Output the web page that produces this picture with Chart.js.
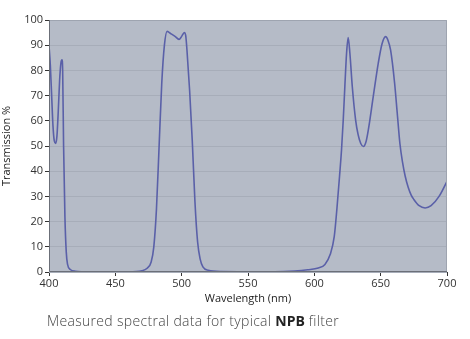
<!DOCTYPE html>
<html>
<head>
<meta charset="utf-8">
<script src="https://cdn.jsdelivr.net/npm/chart.js@4"></script>
<style>
  html,body{margin:0;padding:0;background:#fff;}
  #wrap{position:relative;width:470px;height:339px;overflow:hidden;}
  #c{position:absolute;left:0;top:0;}
  #cap{position:absolute;left:47px;top:311px;font-family:"Open Sans",sans-serif;font-weight:350;font-size:14px;letter-spacing:0.32px;color:#444;white-space:nowrap;}
  #cap b{color:#222;font-weight:700;letter-spacing:0;}
</style>
</head>
<body>
<div id="wrap">
  <canvas id="c" width="470" height="339"></canvas>
  <div id="cap">Measured spectral data for typical <b>NPB</b> filter</div>
</div>
<script>
const wavelengths = [400,401,402,403,404,405,406,407,408,409,409.8,410.3,411,412,413,414,416,420,430,460,470,474,477,479,481,483,485,487,489,492,495,498,500,502,503,504,506,508,510,512,514,516,520,530,570,585,595,603,608,612,615,617,619,620.5,621.8,623,624.3,625.5,626.8,628.6,631.1,633,635,637,639,640.7,644.4,648.2,651,653.7,655.5,657.5,660.5,662.5,664.5,666.5,668.5,670.8,673,675,679,683.5,688,694,700];
const transmission = [90,82,70,58,52,51,54,64,76,83,84.2,80,50,22,8,3,1,0.3,0.1,0.1,0.5,1.5,4,10,25,50,75,90,95.5,94.5,93.5,92.3,93.5,95,94,88,72,52,28,12,5,2,0.7,0.2,0.1,0.4,0.9,1.6,3,7,14,25,38,48.5,60.4,73.6,86.8,93,86.8,73.6,60.4,54.5,51,49.8,51.8,56.4,69.6,82.9,90.5,93.4,92,88,75,63,51,43.5,38,33.5,30.5,28.8,26.3,25.4,26.3,30,36];
const xTicks = [400,450,500,550,600,650,700];
const yTicks = [0,10,20,30,40,50,60,70,80,90,100];

const points = wavelengths.map((w,i)=>({x:w,y:transmission[i]}));

const bgPlugin = {
  id:'bg',
  beforeDraw(chart){
    const {ctx, chartArea:a} = chart;
    ctx.save();
    ctx.fillStyle = '#b5bbc7';
    ctx.fillRect(a.left, a.top, a.right-a.left, a.bottom-a.top);
    ctx.restore();
  },
  afterDatasetsDraw(chart){
    const {ctx, chartArea:a} = chart;
    ctx.save();
    ctx.strokeStyle = '#9ea4b0';
    ctx.lineWidth = 1;
    ctx.beginPath();
    ctx.moveTo(a.left, a.top+0.5); ctx.lineTo(a.right-0.5, a.top+0.5); ctx.lineTo(a.right-0.5, a.bottom);
    ctx.stroke();
    ctx.strokeStyle = '#6b6f78';
    ctx.beginPath();
    ctx.moveTo(a.left+0.5, a.top); ctx.lineTo(a.left+0.5, a.bottom-0.5); ctx.lineTo(a.right, a.bottom-0.5);
    ctx.stroke();
    ctx.restore();
  }
};

new Chart(document.getElementById('c'), {
  type:'line',
  data:{datasets:[{
    data:points,
    borderColor:'#5a60a8',
    borderWidth:1.6,
    pointRadius:0,
    fill:false,
    cubicInterpolationMode:'monotone'
  }]},
  options:{
    responsive:false,
    animation:false,
    layout:{padding:{left:0,right:23,top:20,bottom:34}},
    plugins:{legend:{display:false},tooltip:{enabled:false}},
    scales:{
      x:{
        type:'linear', min:400, max:700,
        afterBuildTicks(s){ s.ticks = xTicks.map(v=>({value:v})); },
        afterFit(s){ s.height = 33; },
        grid:{drawOnChartArea:false, drawTicks:true, tickLength:4, tickColor:'#333'},
        border:{display:false},
        ticks:{color:'#333', font:{family:'Open Sans', size:11}, padding:1, maxRotation:0},
        title:{display:true, text:'Wavelength (nm)', color:'#222', font:{family:'Open Sans', size:11}, padding:{top:0,bottom:0}}
      },
      y:{
        min:0, max:100,
        afterBuildTicks(s){ s.ticks = yTicks.map(v=>({value:v})); },
        afterFit(s){ s.width = 49; },
        grid:{color:'#a7adb9', lineWidth:1, drawTicks:true, tickLength:4, tickColor:'#333'},
        border:{display:false},
        ticks:{color:'#333', font:{family:'Open Sans', size:11}, padding:2},
        title:{display:true, text:'Transmission %', color:'#222', font:{family:'Open Sans', size:11}, padding:{top:0,bottom:0}}
      }
    }
  },
  plugins:[bgPlugin]
});
</script>
</body>
</html>
